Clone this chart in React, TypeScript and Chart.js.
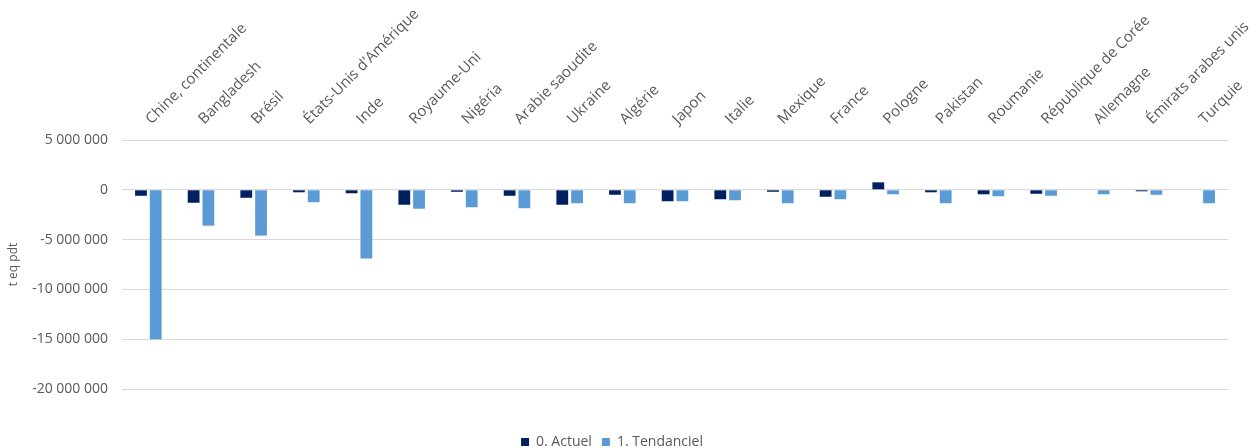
import { useEffect, useRef } from 'react';
import { Chart, registerables } from 'chart.js';

Chart.register(...registerables);

const categories = [
  'Chine, continentale',
  'Bangladesh',
  'Brésil',
  "États-Unis d'Amérique",
  'Inde',
  'Royaume-Uni',
  'Nigéria',
  'Arabie saoudite',
  'Ukraine',
  'Algérie',
  'Japon',
  'Italie',
  'Mexique',
  'France',
  'Pologne',
  'Pakistan',
  'Roumanie',
  'République de Corée',
  'Allemagne',
  'Émirats arabes unis',
  'Turquie',
];

const actuel = [
  -600000, -1300000, -800000, -250000, -350000, -1500000, -200000, -600000,
  -1500000, -500000, -1150000, -950000, -200000, -700000, 750000, -250000,
  -450000, -400000, 0, -150000, 0,
];

const tendanciel = [
  -15000000, -3600000, -4600000, -1250000, -6900000, -1900000, -1750000,
  -1850000, -1350000, -1350000, -1150000, -1050000, -1350000, -950000,
  -450000, -1350000, -650000, -600000, -450000, -500000, -1350000,
];

const seriesNames = ['0. Actuel', '1. Tendanciel'];
const yTickValues = [-20000000, -15000000, -10000000, -5000000, 0, 5000000];
const yAxisTitle = 't eq pdt';

const FONT = "'Open Sans', sans-serif";
const TEXT = '#595959';

function fmt(v: number): string {
  const s = Math.abs(Math.round(v))
    .toString()
    .replace(/\B(?=(\d{3})+(?!\d))/g, ' ');
  return (v < 0 ? '-' : '') + s;
}

const legendShift = {
  id: 'legendShift',
  beforeDraw(chart: any) {
    const lg = chart.legend;
    if (!lg) return;
    lg.left -= 2;
    lg.right -= 2;
    lg.top += 36;
    lg.bottom += 36;
  },
};

export default function App() {
  const ref = useRef<HTMLCanvasElement>(null);

  useEffect(() => {
    if (!ref.current) return;
    const chart = new Chart(ref.current, {
      type: 'bar',
      data: {
        labels: categories,
        datasets: [
          {
            label: seriesNames[0],
            data: actuel,
            backgroundColor: '#002060',
            categoryPercentage: 0.56,
            barPercentage: 0.8,
          },
          {
            label: seriesNames[1],
            data: tendanciel,
            backgroundColor: '#5B9BD5',
            categoryPercentage: 0.56,
            barPercentage: 0.8,
          },
        ],
      },
      options: {
        animation: false,
        responsive: true,
        maintainAspectRatio: false,
        layout: { padding: { left: 0, right: 30, top: 0, bottom: 25 } },
        plugins: {
          tooltip: { enabled: false },
          legend: {
            position: 'bottom',
            labels: {
              boxWidth: 8,
              boxHeight: 8,
              padding: 10,
              color: TEXT,
              font: { family: FONT, size: 14 },
            },
          },
        },
        scales: {
          x: {
            position: 'top',
            grid: { display: false, drawTicks: false },
            border: { display: false },
            ticks: {
              autoSkip: false,
              minRotation: 45,
              maxRotation: 45,
              padding: 12,
              labelOffset: 13,
              color: TEXT,
              font: { family: FONT, size: 15 },
            },
            afterFit: (axis: any) => {
              axis.height = 140;
            },
          },
          y: {
            min: yTickValues[0],
            max: yTickValues[yTickValues.length - 1],
            afterBuildTicks: (axis: any) => {
              axis.ticks = yTickValues.map((v) => ({ value: v }));
            },
            grid: { color: '#D9D9D9', drawTicks: false, lineWidth: 1 },
            border: { display: false },
            ticks: {
              padding: 14,
              color: TEXT,
              font: { family: FONT, size: 14 },
              callback: (v: any) => fmt(Number(v)),
            },
            title: {
              display: true,
              text: yAxisTitle,
              color: TEXT,
              font: { family: FONT, size: 12 },
              padding: { top: 6, bottom: 4 },
            },
            afterFit: (axis: any) => {
              axis.width = 122;
            },
          },
        },
      },
      plugins: [legendShift],
    });
    return () => chart.destroy();
  }, []);

  return (
    <div style={{ position: 'fixed', left: 0, top: 0, width: 1258, height: 448 }}>
      <canvas ref={ref} />
    </div>
  );
}
